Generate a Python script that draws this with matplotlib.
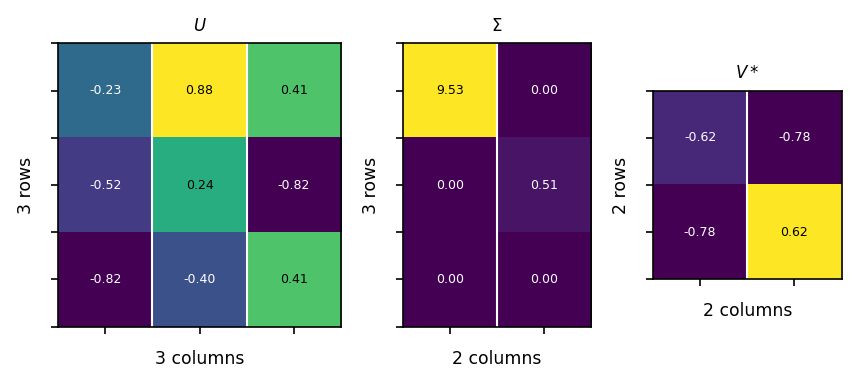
import matplotlib
matplotlib.use('Agg')
import matplotlib.pyplot as plt
import numpy as np

# Matrizes da decomposição SVD
U = np.array([[-0.23, 0.88, 0.41],
              [-0.52, 0.24, -0.82],
              [-0.82, -0.40, 0.41]])
S = np.array([[9.53, 0.00],
              [0.00, 0.51],
              [0.00, 0.00]])
Vt = np.array([[-0.62, -0.78],
               [-0.78, 0.62]])

matrizes = [U, S, Vt]
titulos = ['$U$', r'$\Sigma$', '$V*$']

fig, axes = plt.subplots(1, 3, figsize=(8.58 / 1.5, 3.85 / 1.5), dpi=150,
                         gridspec_kw={'width_ratios': [3, 2, 2]})
fig.subplots_adjust(left=0.0676, right=0.981, top=0.888, bottom=0.1506, wspace=0.279)

for ax, M, titulo in zip(axes, matrizes, titulos):
    n_lin, n_col = M.shape
    ax.imshow(M, cmap='viridis', aspect='equal')
    vmin, vmax = M.min(), M.max()
    for i in range(n_lin):
        for j in range(n_col):
            frac = (M[i, j] - vmin) / (vmax - vmin)
            cor = 'black' if frac > 0.5 else 'white'
            ax.text(j, i, f'{M[i, j]:.2f}', ha='center', va='center',
                    fontsize=6, color=cor)
    for j in range(n_col - 1):
        ax.axvline(j + 0.5, color='white', lw=1)
    ax.set_xticks(np.arange(n_col))
    ax.set_xticklabels([])
    ax.set_yticks(np.arange(-0.5, n_lin, 0.5))
    ax.set_yticklabels([])
    ax.set_xlim(-0.5, n_col - 0.5)
    ax.set_ylim(n_lin - 0.5, -0.5)
    ax.set_title(titulo, fontsize=8)
    ax.set_xlabel(f'{n_col} columns', fontsize=8.3)
    ax.set_ylabel(f'{n_lin} rows', fontsize=8.3)

plt.savefig('out.png', dpi=150)
